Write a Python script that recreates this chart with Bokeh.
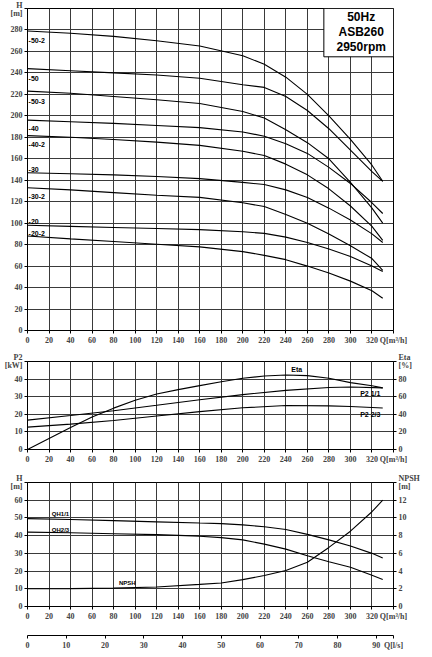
from bokeh.plotting import figure
from bokeh.models import Range1d, LinearAxis, FixedTicker
from bokeh.layouts import column
from bokeh.embed import file_html
from bokeh.resources import INLINE

# ---------------- data ----------------
# Top chart: H-Q curves (Q in m3/h, H in m)
Q_TOP = [0, 40, 80, 120, 160, 200, 220, 240, 260, 280, 300, 320, 330]
H_50_2 = [279, 277, 274, 270, 265, 256, 248, 236, 220, 200, 178, 154, 139]
H_50 = [244, 242, 240, 238, 235, 229, 226.5, 218, 205, 188, 168, 148, 139]
H_50_3 = [223, 221, 218, 215, 211.5, 204, 198, 187, 175, 160, 138, 114, 100]
H_40 = [196, 194.5, 193, 191, 189, 185, 181, 174, 165, 152, 137, 119, 109]
H_40_2 = [181.6, 180, 178, 175.5, 172.5, 167, 163, 155, 145, 132, 116, 97, 84]
H_30 = [147, 146, 145, 143.5, 141.5, 138, 136, 131, 124, 114, 103, 90, 82]
H_30_2 = [133, 131, 128.5, 126, 124, 119, 115.5, 108, 100, 90, 79, 67, 56]
H_20 = [98, 97, 96, 95, 94, 92, 90.5, 87, 82, 76, 69, 60, 55]
H_20_2 = [88, 85.4, 82.9, 80.4, 77.9, 73.5, 70, 66, 60, 53.5, 46, 37, 30]
TOP_CURVES = [H_50_2, H_50, H_50_3, H_40, H_40_2, H_30, H_30_2, H_20, H_20_2]
TOP_NAMES = ["-50-2", "-50", "-50-3", "-40", "-40-2", "-30", "-30-2", "-20", "-20-2"]
TOP_LABEL_H = [272, 236, 215, 190, 174.5, 151, 126, 103, 92]

# Middle chart: power P2 (kW) and efficiency Eta (%)
Q_P2 = [0, 40, 80, 120, 160, 200, 240, 280, 300, 330]
P2_11 = [16.7, 19.3, 22.0, 25.1, 28.3, 31.2, 33.6, 35.2, 35.5, 35.0]
P2_23 = [12.7, 14.4, 16.5, 19.0, 21.5, 23.7, 25.0, 24.8, 24.4, 23.6]
Q_ETA = [0, 40, 60, 80, 100, 120, 140, 160, 180, 200, 220, 240, 260, 280, 300, 320, 330]
ETA = [0, 25, 37, 47, 56, 63, 68, 72.6, 77, 81, 83.5, 84.6, 84, 81, 76, 72.5, 70]

# Bottom chart: QH (m) and NPSH (m)
Q_BOT = [0, 40, 80, 120, 160, 180, 200, 220, 240, 260, 280, 300, 320, 330]
QH_11 = [49.6, 49.1, 48.5, 47.8, 47.1, 46.8, 46.1, 45.0, 43.5, 40.7, 37.6, 34.2, 30.0, 27.4]
QH_23 = [42.0, 41.6, 41.1, 40.6, 39.7, 38.9, 37.6, 35.2, 32.4, 28.7, 25.3, 22.2, 17.6, 15.2]
NPSH = [2.0, 2.02, 2.08, 2.2, 2.5, 2.66, 3.03, 3.5, 4.07, 5.0, 6.67, 8.5, 10.7, 12.0]

# Ticks
Q_TICKS = list(range(0, 341, 20))
H_TOP_TICKS = list(range(0, 301, 20))
P2_TICKS = list(range(0, 51, 10))
ETA_TICKS = list(range(0, 101, 20))
H_BOT_TICKS = list(range(0, 71, 10))
NPSH_TICKS = list(range(0, 15, 2))
LS_MAX = 340 / 3.6
LS_TICKS = list(range(0, 91, 10)) + [LS_MAX]

INFO_LINES = ["50Hz", "ASB260", "2950rpm"]

FONT = "Liberation Serif"
TICK_SIZE = "8px"
W = 430
BL, BR = 27, 37


def style_axis(ax, ticks, overrides=None):
    ax.ticker = FixedTicker(ticks=ticks)
    ax.major_label_overrides = overrides or {}
    ax.axis_line_color = "black"
    ax.major_tick_line_color = "black"
    ax.major_tick_in = 0
    ax.major_tick_out = 3
    ax.minor_tick_line_color = None
    ax.major_label_standoff = 2
    ax.major_label_text_font = FONT
    ax.major_label_text_font_style = "bold"
    ax.major_label_text_font_size = TICK_SIZE
    ax.major_label_text_line_height = 0.9


def base_fig(height, y0, y1, top, bottom, xticks, yticks):
    p = figure(width=W, height=height, x_range=Range1d(0, 340), y_range=Range1d(y0, y1),
               output_backend="svg", toolbar_location=None,
               min_border_left=BL, min_border_right=BR,
               min_border_top=top, min_border_bottom=bottom,
               background_fill_color="white", border_fill_color="white")
    p.outline_line_color = "black"
    p.xgrid.ticker = FixedTicker(ticks=xticks)
    p.ygrid.ticker = FixedTicker(ticks=yticks)
    p.xgrid.grid_line_color = "#3a3a3a"
    p.ygrid.grid_line_color = "#3a3a3a"
    return p


def add_texts(p, xs, ys, texts, size=7, align="left"):
    p.text(x=xs, y=ys, text=texts, text_font_style="bold",
           text_font_size=f"{size}px", text_align=align,
           y_offset=size // 2 + 1, text_color="black")


# ---------------- top chart ----------------
p1 = base_fig(347, 0, 300, 8, 16, Q_TICKS, H_TOP_TICKS)
style_axis(p1.xaxis[0], Q_TICKS, {340: "Q[m³/h]"})
style_axis(p1.yaxis[0], H_TOP_TICKS, {300: "H\n[m]"})
for h in TOP_CURVES:
    p1.line(Q_TOP, h, line_color="black", line_width=1.1)
add_texts(p1, [1] * len(TOP_NAMES), TOP_LABEL_H, TOP_NAMES, size=7)
p1.quad(left=[275.3], right=[340], bottom=[255], top=[300],
        fill_color="white", line_color="black", line_width=1)
add_texts(p1, [310] * 3, [292, 278, 264], INFO_LINES, size=12, align="center")

# ---------------- middle chart ----------------
p2 = base_fig(119, 0, 50, 14, 16, Q_TICKS, P2_TICKS)
p2.extra_y_ranges = {"eta": Range1d(0, 100)}
style_axis(p2.xaxis[0], Q_TICKS, {340: "Q[m³/h]"})
style_axis(p2.yaxis[0], P2_TICKS, {50: "P2\n[kW]"})
ax_eta = LinearAxis(y_range_name="eta")
style_axis(ax_eta, ETA_TICKS, {100: "Eta\n[%]"})
p2.add_layout(ax_eta, "right")
p2.line(Q_P2, P2_11, line_color="black", line_width=1.1)
p2.line(Q_P2, P2_23, line_color="black", line_width=1.1)
p2.line(Q_ETA, ETA, line_color="black", line_width=1.1, y_range_name="eta")
add_texts(p2, [245], [45.5], ["Eta"], size=7)
add_texts(p2, [309, 309], [32, 20.1], ["P2 1/1", "P2 2/3"], size=7)

# ---------------- bottom chart ----------------
p3 = base_fig(186, 0, 70, 16, 44, Q_TICKS, H_BOT_TICKS)
p3.extra_y_ranges = {"npsh": Range1d(0, 14)}
p3.extra_x_ranges = {"ls": Range1d(0, LS_MAX)}
ax_q = p3.xaxis[0]
style_axis(ax_q, Q_TICKS, {340: "Q[m³/h]"})
ax_q.axis_label = "\u00a0"
ax_q.axis_label_text_font_size = "7px"
ax_q.axis_label_standoff = 2
style_axis(p3.yaxis[0], H_BOT_TICKS, {70: "H\n[m]"})
ax_npsh = LinearAxis(y_range_name="npsh")
style_axis(ax_npsh, NPSH_TICKS, {14: "NPSH\n[m]"})
p3.add_layout(ax_npsh, "right")
ax_ls = LinearAxis(x_range_name="ls")
style_axis(ax_ls, LS_TICKS, {LS_MAX: "Q[l/s]"})
p3.add_layout(ax_ls, "below")
p3.line(Q_BOT, QH_11, line_color="black", line_width=1.1)
p3.line(Q_BOT, QH_23, line_color="black", line_width=1.1)
p3.line(Q_BOT, NPSH, line_color="black", line_width=1.1, y_range_name="npsh")
add_texts(p3, [22.6, 22.6, 85], [53, 44, 13.8], ["QH1/1", "QH2/3", "NPSH"], size=6)

layout = column(p1, p2, p3, spacing=0)
open("out.html", "w").write(file_html(layout, INLINE))
